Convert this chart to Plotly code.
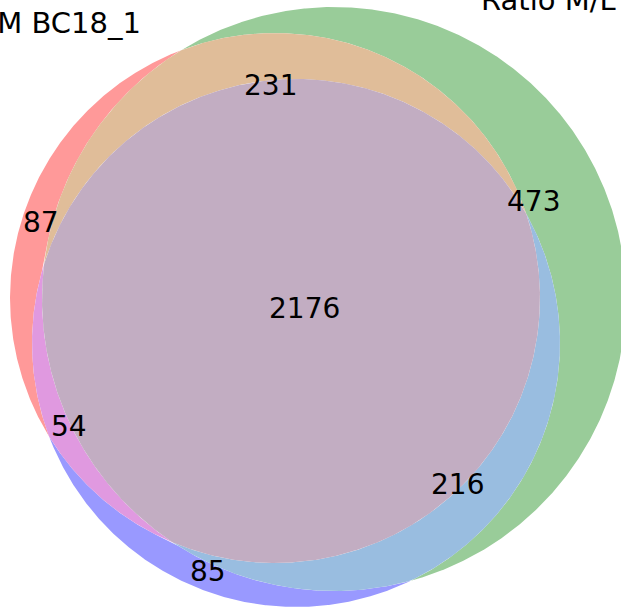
import numpy as np
import plotly.graph_objects as go

# ---------------- data ----------------
set_labels = ["Ratio H/M BC18_1", "Ratio M/L BC18_1", "Ratio H/L BC18_1"]
region_ids = ["100", "010", "001", "110", "101", "011", "111"]
region_counts = [87, 473, 85, 231, 54, 216, 2176]

# ---------------- layout geometry (pixels) ----------------
W, H = 621, 608
circles = [(275.0, 298.0, 265.0), (334.0, 299.0, 292.0), (296.0, 343.0, 264.0)]
base_colors = [(1.0, 0.0, 0.0), (0.0, 0.5, 0.0), (0.0, 0.0, 1.0)]
alpha = 0.4
count_label_pos = {
    "100": (40.8, 222.0), "010": (533.8, 201.7), "001": (208.3, 571.3),
    "110": (270.3, 85.0), "101": (69.2, 426.3), "011": (457.5, 484.5),
    "111": (304.4, 308.7),
}
set_label_pos = [(142.5, 23.2, "right"), (479.4, 0.4, "left")]
FONT = "DejaVu Sans"


def region_color(rid):
    idx = [i for i, ch in enumerate(rid) if ch == "1"]
    c = np.sum([base_colors[i] for i in idx], axis=0)
    if len(idx) == 2:
        c = 0.7 * c
    elif len(idx) == 3:
        c = 0.4 * c
    c = np.minimum(c, 1.0)
    rgb = 255 * (1 - alpha + alpha * c)
    return "rgb(%d,%d,%d)" % tuple(np.round(rgb).astype(int))


def inside(p, c):
    return (p[0] - c[0]) ** 2 + (p[1] - c[1]) ** 2 < c[2] ** 2


def intersect(c1, c2):
    x1, y1, r1 = c1
    x2, y2, r2 = c2
    d = np.hypot(x2 - x1, y2 - y1)
    if d > r1 + r2 or d < abs(r1 - r2):
        return []
    a = (r1 ** 2 - r2 ** 2 + d ** 2) / (2 * d)
    h = np.sqrt(max(r1 ** 2 - a ** 2, 0))
    px, py = x1 + a * (x2 - x1) / d, y1 + a * (y2 - y1) / d
    ux, uy = -(y2 - y1) / d, (x2 - x1) / d
    return [(px + h * ux, py + h * uy), (px - h * ux, py - h * uy)]


# build arcs
arcs = []
for i, ci in enumerate(circles):
    angs = []
    for j, cj in enumerate(circles):
        if j == i:
            continue
        for p in intersect(ci, cj):
            angs.append(np.arctan2(p[1] - ci[1], p[0] - ci[0]))
    angs = sorted(angs)
    if not angs:
        angs = [0.0]
    n = len(angs)
    for k in range(n):
        a0 = angs[k]
        a1 = angs[(k + 1) % n] if k + 1 < n else angs[0] + 2 * np.pi
        if a1 <= a0:
            a1 += 2 * np.pi
        am = 0.5 * (a0 + a1)
        pm = (ci[0] + ci[2] * np.cos(am), ci[1] + ci[2] * np.sin(am))
        S = frozenset(j for j, cj in enumerate(circles) if j != i and inside(pm, cj))
        arcs.append((i, a0, a1, S))


def arc_points(i, a0, a1):
    cx, cy, r = circles[i]
    n = max(3, int(abs(a1 - a0) / 0.004))
    t = np.linspace(a0, a1, n)
    return cx + r * np.cos(t), cy + r * np.sin(t)


def region_loops(R):
    segs = []
    for (i, a0, a1, S) in arcs:
        if i in R and S == R - {i}:
            segs.append(arc_points(i, a0, a1))
        elif i not in R and S == R:
            segs.append(arc_points(i, a1, a0))
    loops = []
    used = [False] * len(segs)
    for s in range(len(segs)):
        if used[s]:
            continue
        used[s] = True
        xs, ys = list(segs[s][0]), list(segs[s][1])
        start = (xs[0], ys[0])
        while True:
            end = (xs[-1], ys[-1])
            if np.hypot(end[0] - start[0], end[1] - start[1]) < 1e-3 and len(xs) > 3:
                break
            best, bd = None, 1e9
            for t in range(len(segs)):
                if used[t]:
                    continue
                d = np.hypot(segs[t][0][0] - end[0], segs[t][1][0] - end[1])
                if d < bd:
                    best, bd = t, d
            if best is None or bd > 1e-2:
                break
            used[best] = True
            xs += list(segs[best][0])
            ys += list(segs[best][1])
        loops.append((xs, ys))
    return loops


fig = go.Figure()
for rid in region_ids:
    R = frozenset(i for i, ch in enumerate(rid) if ch == "1")
    col = region_color(rid)
    for xs, ys in region_loops(R):
        fig.add_trace(go.Scatter(
            x=xs, y=ys, mode="lines", fill="toself", fillcolor=col,
            line=dict(width=0, color=col), hoverinfo="skip", showlegend=False))

for rid, cnt in zip(region_ids, region_counts):
    x, y = count_label_pos[rid]
    fig.add_annotation(x=x, y=y, xref="x", yref="y", text=str(cnt), showarrow=False,
                       xanchor="center", yanchor="middle",
                       font=dict(family=FONT, size=28, color="black"))

for (x, y, anc), lab in zip(set_label_pos, set_labels):
    fig.add_annotation(x=x / W, y=1 - y / H, xref="paper", yref="paper", text=lab,
                       showarrow=False, xanchor=anc, yanchor="middle",
                       font=dict(family=FONT, size=29, color="black"))

fig.update_layout(
    width=W, height=H, autosize=False,
    margin=dict(l=0, r=0, t=0, b=0, pad=0),
    paper_bgcolor="white", plot_bgcolor="white",
    xaxis=dict(range=[0, W], visible=False, fixedrange=True),
    yaxis=dict(range=[H, 0], visible=False, fixedrange=True),
    showlegend=False,
)
fig.write_html(
    "out.html",
    config={"displayModeBar": False, "staticPlot": True},
    post_script="document.body.style.margin='0';document.body.style.overflow='hidden';",
)
